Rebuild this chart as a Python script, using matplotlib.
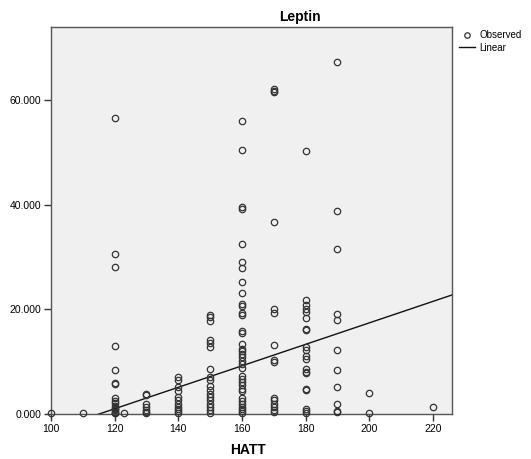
import numpy as np
import matplotlib
matplotlib.use("Agg")
import matplotlib.pyplot as plt

plt.rcParams["font.family"] = ["Liberation Sans", "DejaVu Sans"]

# Observed values, grouped by HATT
hatt_levels = [100, 110, 120, 123, 130, 140, 150, 160, 170, 180, 190, 200, 220]
leptin_by_hatt = [
    [0.1],
    [0.2],
    [56.6, 30.5, 28.1, 12.9, 8.4, 6.0, 5.8, 3.0, 2.5, 2.1, 1.6, 1.2, 0.9, 0.7, 0.4, 0.2, 0.1],
    [0.2],
    [3.8, 3.6, 2.0, 1.4, 0.8, 0.4, 0.1],
    [7.0, 6.4, 5.1, 4.4, 3.3, 2.7, 2.0, 1.4, 0.9, 0.5, 0.2],
    [19.0, 18.5, 17.8, 14.2, 13.6, 12.7, 8.5, 7.1, 6.5, 5.3, 4.5, 3.8, 3.3, 2.6, 2.0,
     1.4, 0.8, 0.2],
    [56.0, 50.4, 39.5, 39.1, 32.4, 29.1, 27.8, 25.3, 23.2, 21.0, 20.6, 19.2, 18.9, 15.8,
     15.5, 13.3, 12.5, 12.0, 11.4, 10.8, 10.1, 9.5, 8.8, 7.2, 6.6, 6.1, 5.5, 4.8, 4.3,
     3.0, 2.5, 1.9, 1.4, 0.9, 0.5, 0.1],
    [62.0, 61.7, 61.4, 36.7, 20.0, 19.2, 13.1, 10.4, 10.0, 3.0, 2.6, 2.0, 1.4, 0.8, 0.3],
    [50.3, 21.8, 20.8, 20.0, 19.4, 18.3, 16.3, 16.0, 12.8, 12.3, 11.1, 10.5, 8.6, 8.1,
     7.8, 4.7, 4.5, 1.0, 0.5, 0.2],
    [67.2, 38.7, 31.5, 19.1, 18.0, 12.2, 8.4, 5.2, 1.9, 0.6, 0.3],
    [4.0, 0.2],
    [1.3],
]

# Linear fit
fit_intercept = -23.6
fit_slope = 0.205

x_ticks = [100, 120, 140, 160, 180, 200, 220]
y_ticks = [0, 20, 40, 60]

hatt = np.concatenate([[h] * len(v) for h, v in zip(hatt_levels, leptin_by_hatt)])
leptin = np.concatenate(leptin_by_hatt)

fig = plt.figure(figsize=(5.31, 4.59), dpi=100)
ax = fig.add_axes([51 / 531, 1 - 414 / 459, 401 / 531, 387 / 459])
ax.set_facecolor("#f0f0f0")

ax.plot(hatt, leptin, linestyle="none", marker="o", markersize=4.6,
        markerfacecolor="none", markeredgecolor="#333333", markeredgewidth=0.9,
        label="Observed", clip_on=False, zorder=3)

xl = np.array([100, 226])
ax.plot(xl, fit_intercept + fit_slope * xl, color="#111111", linewidth=1.0,
        label="Linear", zorder=2)

ax.set_xlim(100, 226)
ax.set_ylim(0, 73.9)
ax.set_xticks(x_ticks)
ax.set_yticks(y_ticks)
ax.set_yticklabels([f"{v:.3f}" for v in y_ticks])
ax.tick_params(axis="both", direction="out", length=5, width=1, color="#333333",
               labelsize=7.5, pad=2)
for s in ax.spines.values():
    s.set_color("#555555")
    s.set_linewidth(1.0)

fig.text(300 / 531, 1 - 17 / 459, "Leptin", ha="center", va="center",
         fontsize=10, fontweight="bold")
fig.text(248 / 531, 1 - 450 / 459, "HATT", ha="center", va="center",
         fontsize=10, fontweight="bold")

leg = ax.legend(loc="upper left", bbox_to_anchor=(1.0, 1.009), frameon=False,
                fontsize=7, handlelength=1.7, handletextpad=0.4, borderaxespad=0.3,
                labelspacing=0.25, numpoints=1, markerscale=0.85)

fig.savefig("out.png", dpi=100)
